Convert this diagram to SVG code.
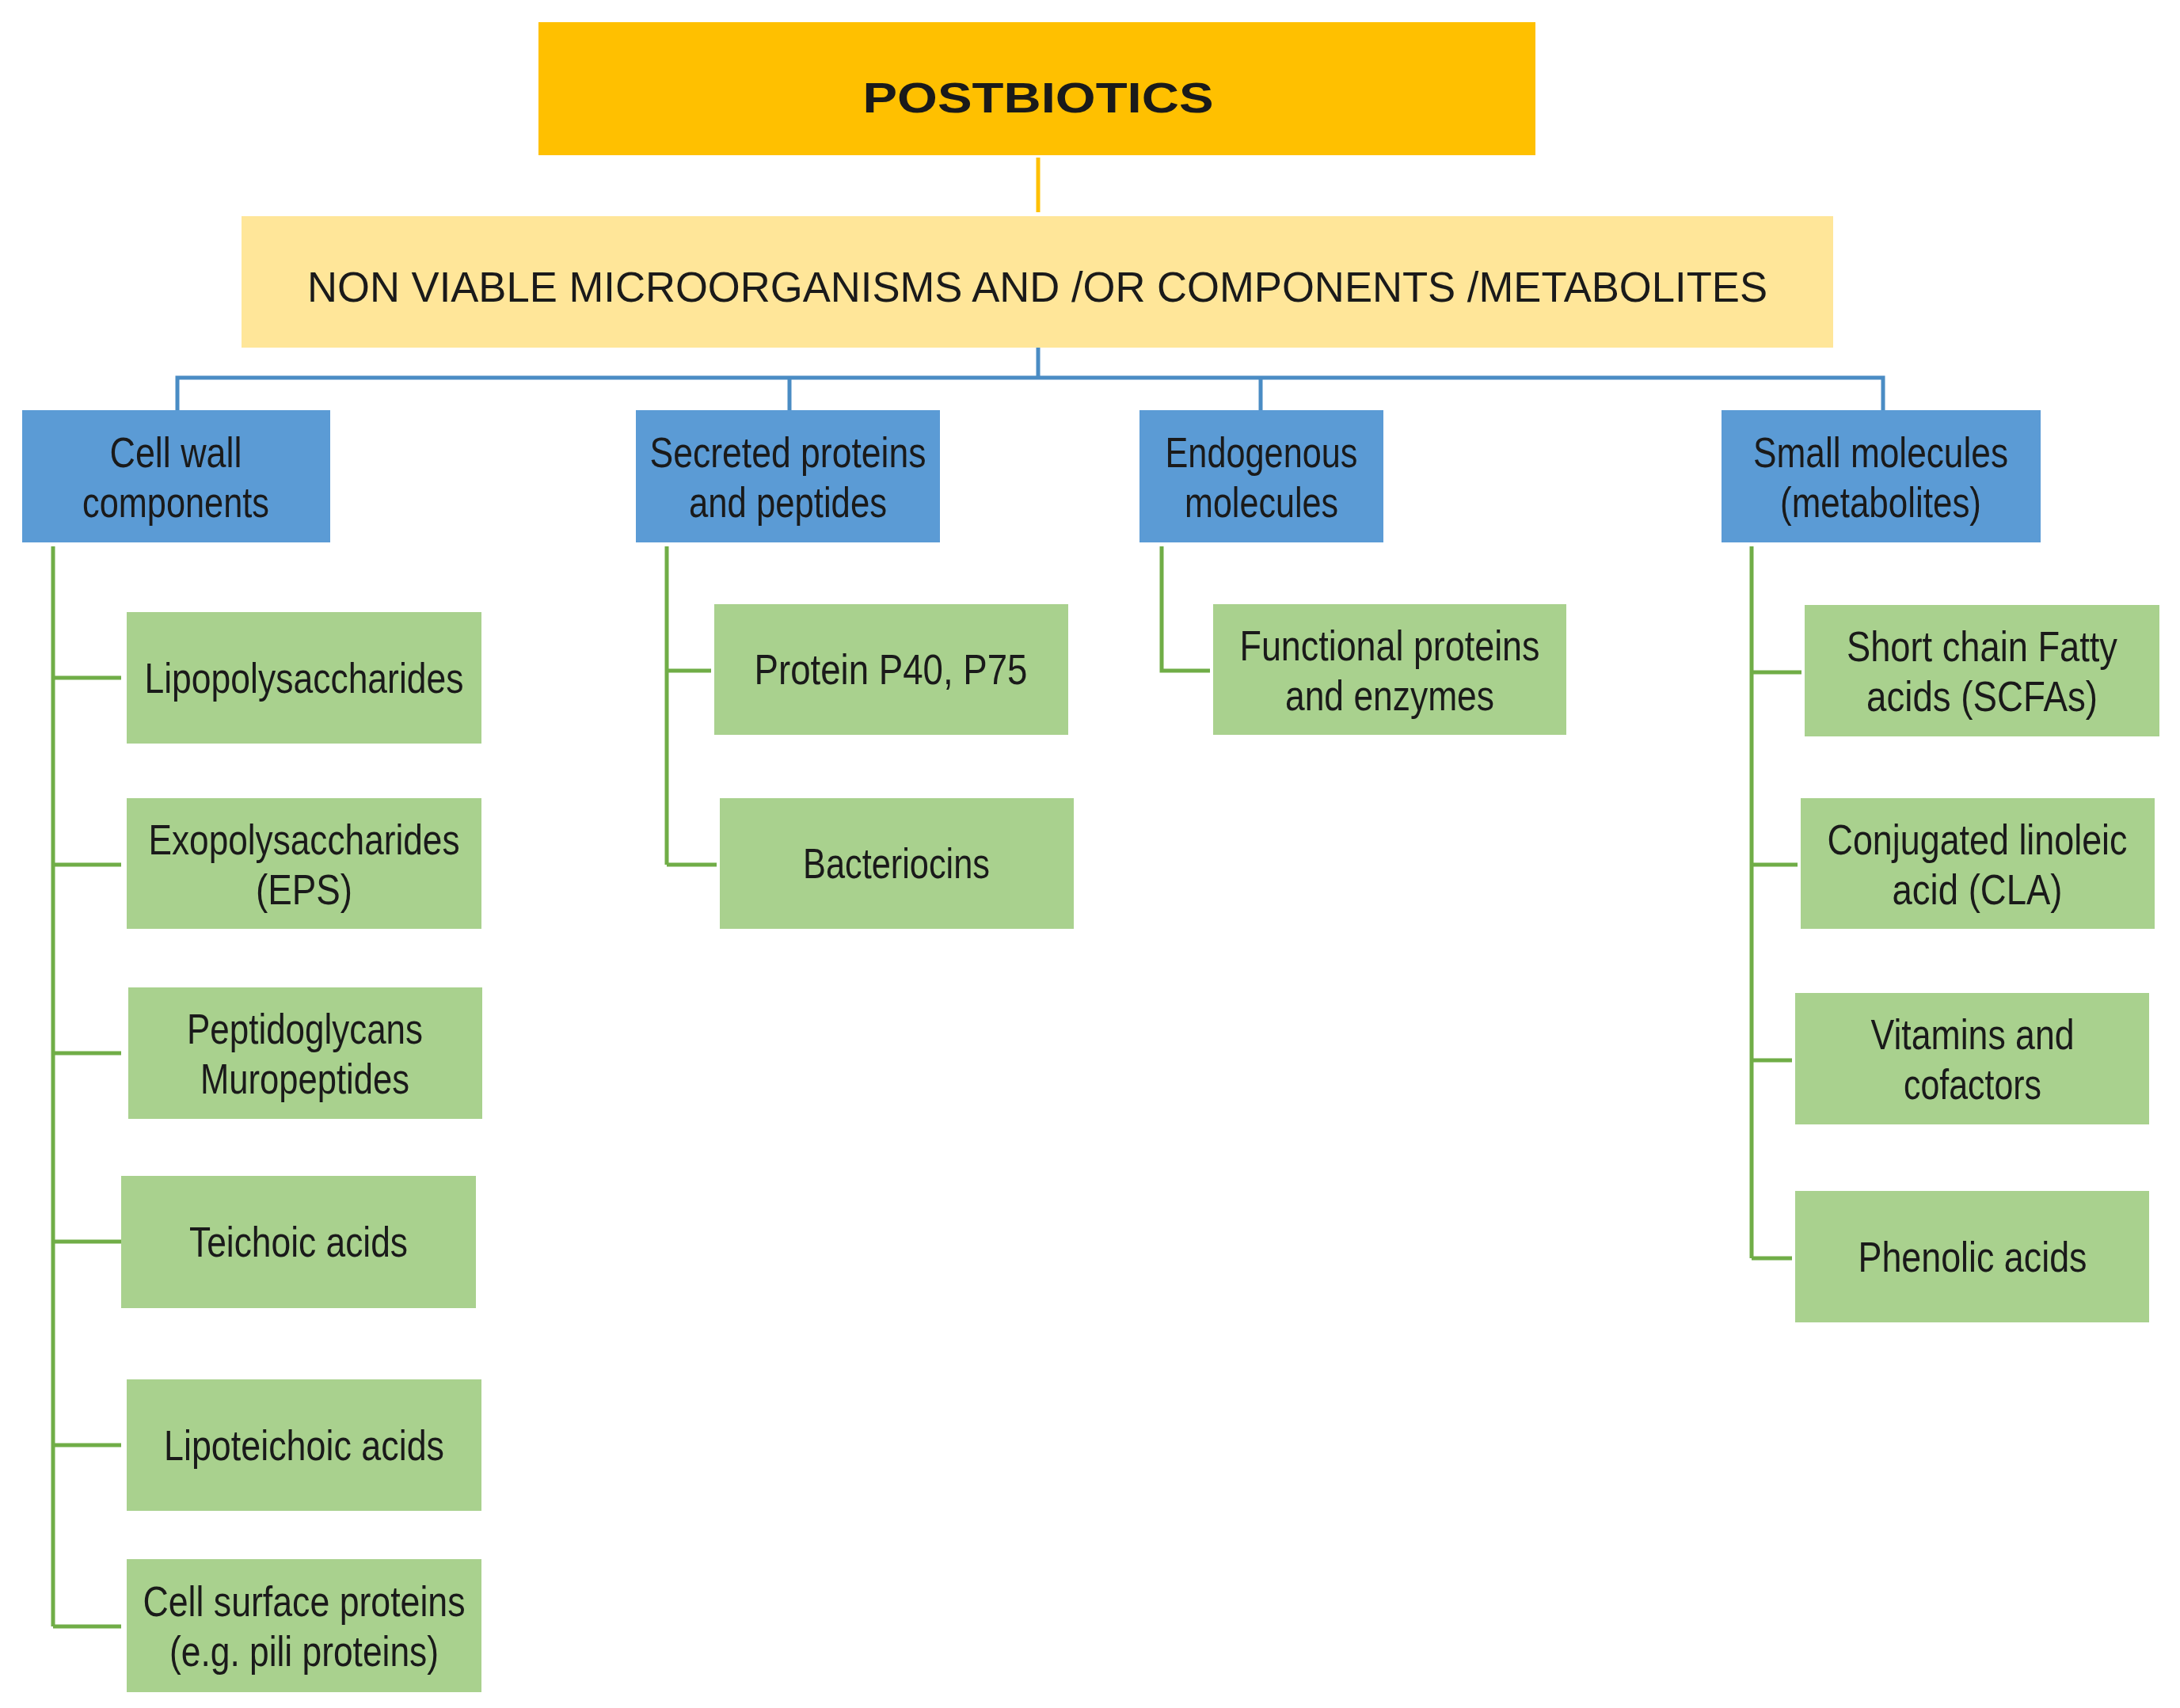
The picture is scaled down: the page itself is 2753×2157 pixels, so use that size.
<svg xmlns="http://www.w3.org/2000/svg" width="2753" height="2157" viewBox="0 0 2753 2157">
<style>
text{font-family:"Liberation Sans",Arial,sans-serif;font-size:54px;fill:#1a1a1a;text-anchor:middle}
.blue{fill:#5B9BD5}.green{fill:#A9D18E}
.gl{stroke:#70AD47;stroke-width:5;fill:none}
.bl{stroke:#4A8CC4;stroke-width:5;fill:none}
</style>
<rect width="2753" height="2157" fill="#fff"/>
<g id="connectors">
<line x1="1311" y1="199" x2="1311" y2="268" stroke="#FFC000" stroke-width="5"/>
<path class="bl" d="M1311 439V477M224 518V477H2378V518M997 477V518M1592 477V518"/>
<path class="gl" d="M67 690V2054M67 856H153M67 1092H153M67 1330H153M67 1568H153M67 1825H153M67 2054H153"/>
<path class="gl" d="M842 690V1092M842 847H898M842 1092H905"/>
<path class="gl" d="M1467 690V847H1528"/>
<path class="gl" d="M2212 690V1589M2212 849H2275M2212 1092H2270M2212 1339H2263M2212 1589H2263"/>
</g>
<g id="title"><rect x="680" y="28" width="1259" height="168" fill="#FFC000"/><text x="1311" y="142" font-size="94" font-weight="bold" textLength="443" lengthAdjust="spacingAndGlyphs">POSTBIOTICS</text></g>
<g id="nonviable"><rect x="305" y="273" width="2010" height="166" fill="#FFE699"/><text x="1310" y="381" font-size="76" textLength="1844" lengthAdjust="spacingAndGlyphs">NON VIABLE MICROORGANISMS AND /OR COMPONENTS /METABOLITES</text></g>
<g id="cellwall"><rect class="blue" x="28" y="518" width="389" height="167"/><text x="222" y="590" textLength="167" lengthAdjust="spacingAndGlyphs">Cell wall</text><text x="222" y="653" textLength="236" lengthAdjust="spacingAndGlyphs">components</text></g>
<g id="secreted"><rect class="blue" x="803" y="518" width="384" height="167"/><text x="995" y="590" textLength="349" lengthAdjust="spacingAndGlyphs">Secreted proteins</text><text x="995" y="653" textLength="250" lengthAdjust="spacingAndGlyphs">and peptides</text></g>
<g id="endogenous"><rect class="blue" x="1439" y="518" width="308" height="167"/><text x="1593" y="590" textLength="243" lengthAdjust="spacingAndGlyphs">Endogenous</text><text x="1593" y="653" textLength="194" lengthAdjust="spacingAndGlyphs">molecules</text></g>
<g id="small"><rect class="blue" x="2174" y="518" width="403" height="167"/><text x="2375" y="590" textLength="322" lengthAdjust="spacingAndGlyphs">Small molecules</text><text x="2375" y="653" textLength="254" lengthAdjust="spacingAndGlyphs">(metabolites)</text></g>
<g id="lps"><rect class="green" x="160" y="773" width="448" height="166"/><text x="384" y="875" textLength="403" lengthAdjust="spacingAndGlyphs">Lipopolysaccharides</text></g>
<g id="eps"><rect class="green" x="160" y="1008" width="448" height="165"/><text x="384" y="1079" textLength="393" lengthAdjust="spacingAndGlyphs">Exopolysaccharides</text><text x="384" y="1142" textLength="122" lengthAdjust="spacingAndGlyphs">(EPS)</text></g>
<g id="pg"><rect class="green" x="162" y="1247" width="447" height="166"/><text x="385" y="1318" textLength="298" lengthAdjust="spacingAndGlyphs">Peptidoglycans</text><text x="385" y="1381" textLength="264" lengthAdjust="spacingAndGlyphs">Muropeptides</text></g>
<g id="teichoic"><rect class="green" x="153" y="1485" width="448" height="167"/><text x="377" y="1587" textLength="276" lengthAdjust="spacingAndGlyphs">Teichoic acids</text></g>
<g id="lta"><rect class="green" x="160" y="1742" width="448" height="166"/><text x="384" y="1844" textLength="354" lengthAdjust="spacingAndGlyphs">Lipoteichoic acids</text></g>
<g id="csp"><rect class="green" x="160" y="1969" width="448" height="168"/><text x="384" y="2041" textLength="407" lengthAdjust="spacingAndGlyphs">Cell surface proteins</text><text x="384" y="2104" textLength="340" lengthAdjust="spacingAndGlyphs">(e.g. pili proteins)</text></g>
<g id="p40"><rect class="green" x="902" y="763" width="447" height="165"/><text x="1125" y="864" textLength="345" lengthAdjust="spacingAndGlyphs">Protein P40, P75</text></g>
<g id="bacteriocins"><rect class="green" x="909" y="1008" width="447" height="165"/><text x="1132" y="1109" textLength="236" lengthAdjust="spacingAndGlyphs">Bacteriocins</text></g>
<g id="functional"><rect class="green" x="1532" y="763" width="446" height="165"/><text x="1755" y="834" textLength="379" lengthAdjust="spacingAndGlyphs">Functional proteins</text><text x="1755" y="897" textLength="264" lengthAdjust="spacingAndGlyphs">and enzymes</text></g>
<g id="scfa"><rect class="green" x="2279" y="764" width="448" height="166"/><text x="2503" y="835" textLength="342" lengthAdjust="spacingAndGlyphs">Short chain Fatty</text><text x="2503" y="898" textLength="292" lengthAdjust="spacingAndGlyphs">acids (SCFAs)</text></g>
<g id="cla"><rect class="green" x="2274" y="1008" width="447" height="165"/><text x="2497" y="1079" textLength="379" lengthAdjust="spacingAndGlyphs">Conjugated linoleic</text><text x="2497" y="1142" textLength="215" lengthAdjust="spacingAndGlyphs">acid (CLA)</text></g>
<g id="vitamins"><rect class="green" x="2267" y="1254" width="447" height="166"/><text x="2491" y="1325" textLength="257" lengthAdjust="spacingAndGlyphs">Vitamins and</text><text x="2491" y="1388" textLength="174" lengthAdjust="spacingAndGlyphs">cofactors</text></g>
<g id="phenolic"><rect class="green" x="2267" y="1504" width="447" height="166"/><text x="2491" y="1606" textLength="289" lengthAdjust="spacingAndGlyphs">Phenolic acids</text></g>
</svg>
